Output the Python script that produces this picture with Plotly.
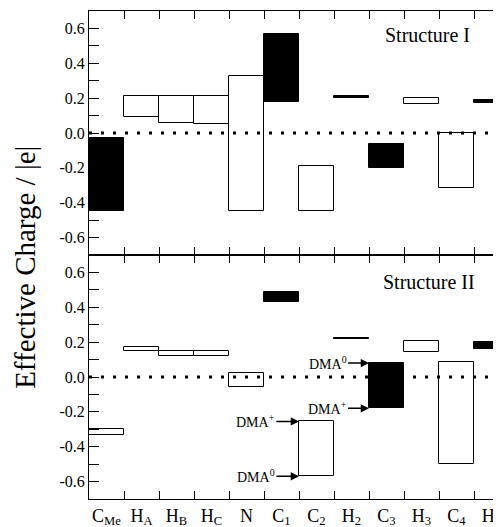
import plotly.graph_objects as go
from plotly.subplots import make_subplots

atoms = ["C<sub>Me</sub>", "H<sub>A</sub>", "H<sub>B</sub>", "H<sub>C</sub>", "N",
         "C<sub>1</sub>", "C<sub>2</sub>", "H<sub>2</sub>", "C<sub>3</sub>",
         "H<sub>3</sub>", "C<sub>4</sub>", "H<sub>4</sub>"]

# Structure I : charge range (low, high) per atom, and whether the box is filled
s1_low = [-0.45, 0.09, 0.06, 0.05, -0.45, 0.18, -0.45, 0.202, -0.20, 0.165, -0.315, 0.17]
s1_high = [-0.03, 0.21, 0.21, 0.21, 0.325, 0.57, -0.19, 0.21, -0.065, 0.20, 0.0, 0.19]
s1_dark = [1, 0, 0, 0, 0, 1, 0, 1, 1, 0, 0, 1]

# Structure II
s2_low = [-0.33, 0.15, 0.12, 0.12, -0.06, 0.43, -0.57, 0.22, -0.18, 0.145, -0.50, 0.16]
s2_high = [-0.30, 0.175, 0.15, 0.15, 0.025, 0.49, -0.255, 0.226, 0.08, 0.205, 0.085, 0.20]
s2_dark = [0, 0, 0, 0, 0, 1, 0, 1, 1, 0, 0, 1]

# DMA markers in Structure II: (atom index, charge, label)
dma_marks = [(6, -0.255, "DMA<sup>+</sup>"), (6, -0.57, "DMA<sup>0</sup>"),
             (8, 0.08, "DMA<sup>0</sup>"), (8, -0.18, "DMA<sup>+</sup>")]

ytick_vals = [-0.6, -0.4, -0.2, 0.0, 0.2, 0.4, 0.6]
ytick_text = ["-0.6", "-0.4", "-0.2", "0.0", "0.2", "0.4", "0.6"]

FONT = "Liberation Serif"

fig = make_subplots(rows=2, cols=1, shared_xaxes=True, vertical_spacing=0)

for row, (lo, hi, dark) in enumerate([(s1_low, s1_high, s1_dark), (s2_low, s2_high, s2_dark)], start=1):
    fig.add_trace(go.Bar(
        x=atoms, y=[h - l for l, h in zip(lo, hi)], base=lo, width=1,
        marker=dict(color=["black" if d else "white" for d in dark],
                    line=dict(color="black", width=1)),
        showlegend=False, hoverinfo="skip"), row=row, col=1)

for yref in ["y", "y2"]:
    fig.add_shape(type="line", xref="x domain" if yref == "y" else "x2 domain",
                  yref=yref, x0=0, x1=1, y0=0, y1=0, layer="above",
                  line=dict(color="black", width=3, dash="3px,9px"))

for idx, val, lab in dma_marks:
    tail = idx - 1.19 if idx == 6 else idx - 1.14
    fig.add_annotation(x=idx - 0.5, y=val, ax=tail, ay=val, xref="x2", yref="y2",
                       axref="x2", ayref="y2", text="", showarrow=True,
                       arrowhead=2, arrowsize=1.1, arrowwidth=1.5, arrowcolor="black")
    fig.add_annotation(x=tail, y=val, xref="x2", yref="y2", text=lab, showarrow=False,
                       xanchor="right", yanchor="middle", xshift=2,
                       font=dict(family=FONT, size=14, color="black"))

fig.add_annotation(x=0.805, y=0.90, xref="x domain", yref="y domain", text="Structure I",
                   xanchor="center", yanchor="middle",
                   showarrow=False, font=dict(family=FONT, size=20, color="black"))
fig.add_annotation(x=0.81, y=0.889, xref="x2 domain", yref="y2 domain", text="Structure II",
                   xanchor="center", yanchor="middle",
                   showarrow=False, font=dict(family=FONT, size=20, color="black"))
fig.add_annotation(x=-0.152, y=0.474, xref="paper", yref="paper",
                   text="Effective Charge / |e|", textangle=-90, showarrow=False,
                   xanchor="center", yanchor="middle",
                   font=dict(family=FONT, size=29, color="black"))

xcommon = dict(range=[-0.5, 11.5], showline=True, linecolor="black", linewidth=1,
               mirror="ticks", ticks="inside", ticklen=8, tickcolor="black",
               tickson="boundaries", showgrid=False, zeroline=False, automargin=False,
               tickangle=0)
fig.update_xaxes(**xcommon)
fig.update_xaxes(showticklabels=False, row=1, col=1)
fig.update_xaxes(tickfont=dict(family=FONT, size=18, color="black"), ticklabelstandoff=0,
                 row=2, col=1)

fig.update_yaxes(range=[-0.7, 0.7], tickmode="array", tickvals=ytick_vals,
                 ticktext=ytick_text, showline=True, linecolor="black", linewidth=1,
                 mirror="ticks", ticks="inside", ticklen=10, tickcolor="black",
                 showgrid=False, zeroline=False, automargin=False,
                 tickfont=dict(family=FONT, size=16, color="black"),
                 minor=dict(tickmode="linear", tick0=0, dtick=0.1, ticks="inside",
                            ticklen=10, tickcolor="black"))
fig.update_layout(yaxis=dict(domain=[0.5, 1.0]), yaxis2=dict(domain=[0.0, 0.5]))

fig.update_layout(width=501, height=527, margin=dict(l=81, r=0, t=3, b=36),
                  plot_bgcolor="white", paper_bgcolor="white", bargap=0,
                  font=dict(family=FONT, color="black"))

fig.write_html("out.html")
